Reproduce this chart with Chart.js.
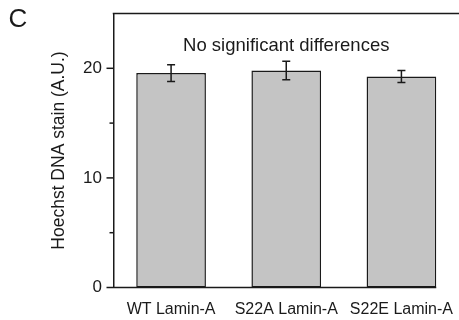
<!DOCTYPE html>
<html>
<head>
<meta charset="utf-8">
<script src="https://cdn.jsdelivr.net/npm/chart.js@4.4.1/dist/chart.umd.min.js"></script>
<style>
  html, body { margin: 0; padding: 0; background: #fff; }
  #wrap { width: 459px; height: 320px; }
</style>
</head>
<body>
<div id="wrap"><canvas id="chart" width="459" height="320"></canvas></div>
<script>
// values
const categories = ['WT Lamin-A', 'S22A Lamin-A', 'S22E Lamin-A'];
const meanStain = [19.56, 19.8, 19.25];
const errStain = [0.77, 0.84, 0.54];
const yTickLabels = [0, 10, 20];

const panelLetter = 'C';
const yTitle = 'Hoechst DNA stain (A.U.)';
const note = 'No significant differences';

const FONT = '"Liberation Sans", Arial, Helvetica, sans-serif';
const INK = '#1a1a1a';

// frame, tick marks, error bars and extra text
const decorations = {
    id: 'decorations',
    afterDatasetsDraw(chart) {
        const ctx = chart.ctx;
        const area = chart.chartArea;
        const y = chart.scales.y;
        const meta = chart.getDatasetMeta(0);

        ctx.save();
        ctx.strokeStyle = INK;
        ctx.lineWidth = 1.5;

        // top line and bottom axis line (stops at last bar)
        const lastBar = meta.data[meta.data.length - 1];
        ctx.beginPath();
        ctx.moveTo(area.left - 0.75, area.top);
        ctx.lineTo(area.right, area.top);
        ctx.moveTo(area.left - 7, area.bottom);
        ctx.lineTo(lastBar.x + lastBar.width / 2, area.bottom);
        ctx.stroke();

        // y tick marks, long for labelled ones
        y.ticks.forEach(t => {
            if (t.value >= y.max || t.value === 0) return;
            const py = y.getPixelForValue(t.value);
            const len = yTickLabels.includes(t.value) ? 7 : 4;
            ctx.beginPath();
            ctx.moveTo(area.left - len, py);
            ctx.lineTo(area.left, py);
            ctx.stroke();
        });

        // error bars
        meta.data.forEach((bar, i) => {
            const top = y.getPixelForValue(meanStain[i] + errStain[i]);
            const bot = y.getPixelForValue(meanStain[i] - errStain[i]);
            const cap = 4;
            ctx.beginPath();
            ctx.moveTo(bar.x, top);
            ctx.lineTo(bar.x, bot);
            ctx.moveTo(bar.x - cap, top);
            ctx.lineTo(bar.x + cap, top);
            ctx.moveTo(bar.x - cap, bot);
            ctx.lineTo(bar.x + cap, bot);
            ctx.stroke();
        });

        ctx.fillStyle = INK;

        // note inside plot
        ctx.font = '18.5px ' + FONT;
        ctx.textAlign = 'center';
        ctx.textBaseline = 'middle';
        ctx.fillText(note, (area.left + area.right) / 2, y.getPixelForValue(22.0));

        // panel letter
        ctx.font = '26px ' + FONT;
        ctx.fillText(panelLetter, 18, 20);

        // y title
        ctx.font = '17.5px ' + FONT;
        ctx.translate(59, (area.top + area.bottom) / 2);
        ctx.rotate(-Math.PI / 2);
        ctx.fillText(yTitle, 0, 0);
        ctx.restore();
    }
};

new Chart(document.getElementById('chart'), {
    type: 'bar',
    data: {
        labels: categories,
        datasets: [{
            data: meanStain,
            backgroundColor: '#c4c4c4',
            borderColor: INK,
            borderWidth: 1.5,
            borderSkipped: false,
            categoryPercentage: 1,
            barPercentage: 0.605
        }]
    },
    options: {
        responsive: false,
        animation: false,
        layout: { padding: { top: 13.5, right: -2, left: 0, bottom: 0 } },
        plugins: {
            legend: { display: false },
            tooltip: { enabled: false }
        },
        scales: {
            x: {
                grid: { display: false, drawTicks: false },
                border: { display: false },
                ticks: {
                    color: INK,
                    font: { family: FONT, size: 16 },
                    padding: 12,
                    maxRotation: 0,
                    autoSkip: false
                },
                afterFit(scale) {
                    scale.height = 32.5;
                    scale.paddingLeft = 0;
                    scale.paddingRight = 0;
                }
            },
            y: {
                min: 0,
                max: 25,
                grid: { display: false, drawTicks: false },
                border: { display: true, color: INK, width: 1.5 },
                ticks: {
                    stepSize: 5,
                    color: INK,
                    font: { family: FONT, size: 17 },
                    padding: 11.5,
                    callback: v => yTickLabels.includes(v) ? String(v) : ''
                },
                afterFit(scale) {
                    scale.width = 113.5;
                    scale.paddingTop = 0;
                    scale.paddingBottom = 0;
                }
            }
        }
    },
    plugins: [decorations]
});
</script>
</body>
</html>
